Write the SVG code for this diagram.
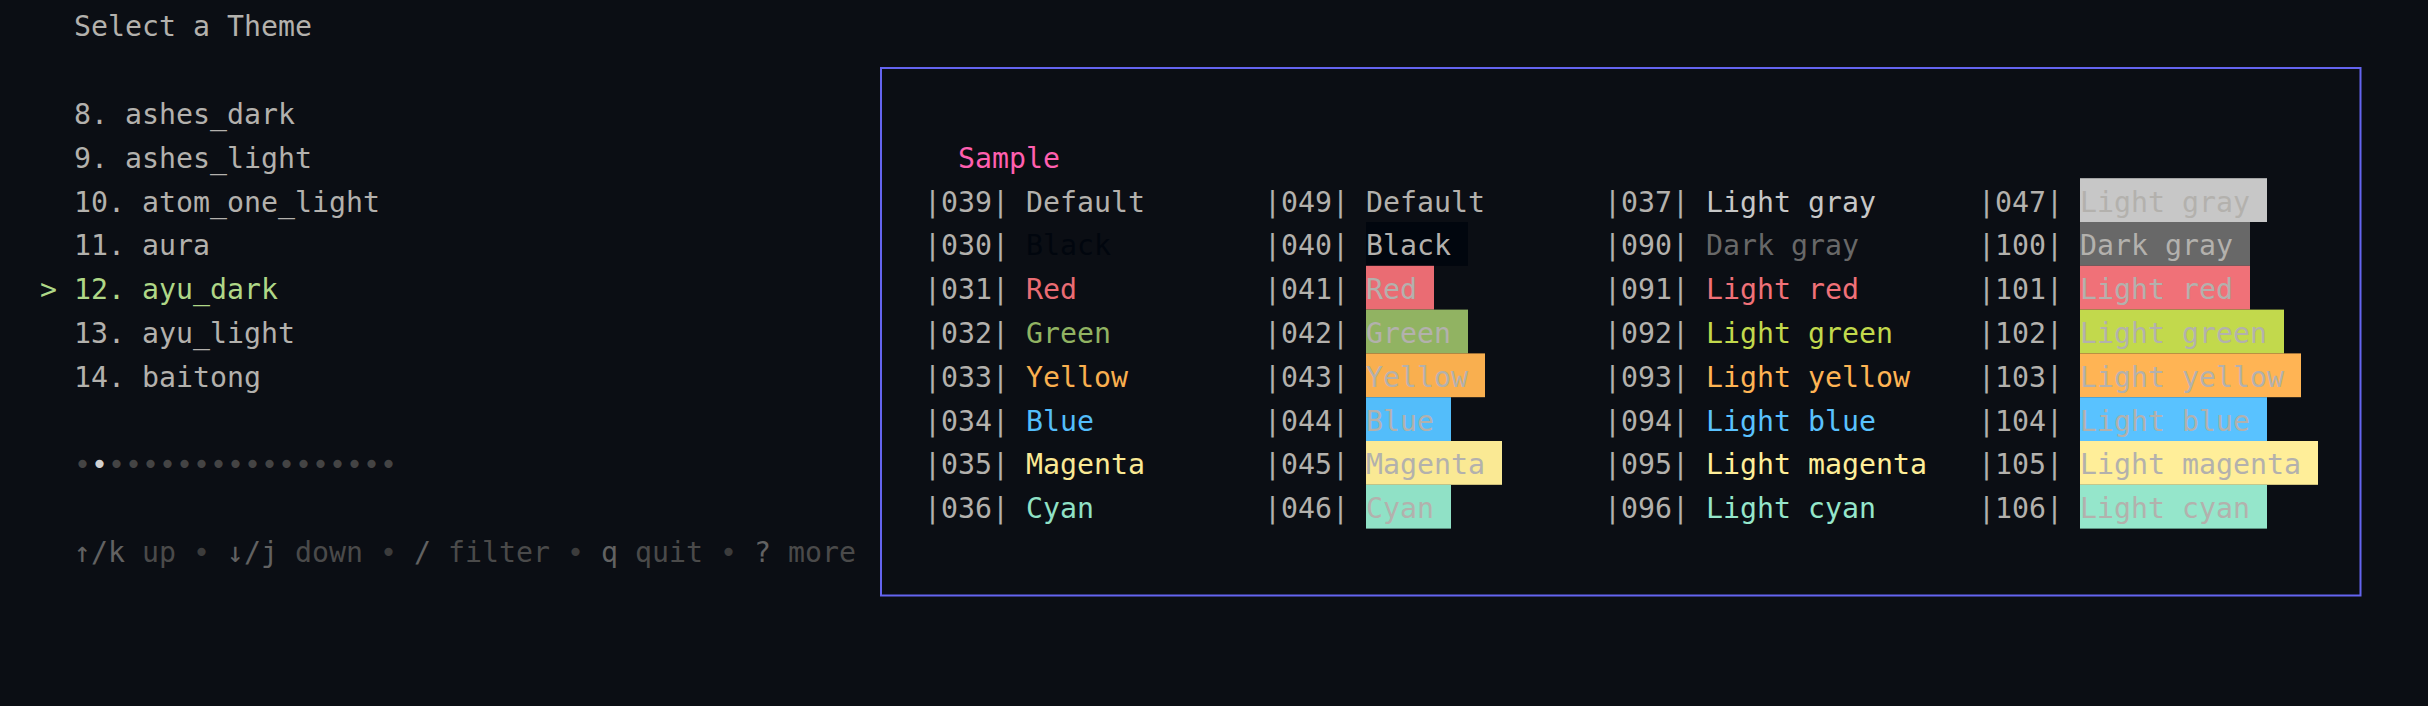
<svg xmlns="http://www.w3.org/2000/svg" width="2428" height="706" viewBox="0 0 2428 706">
<style>
text{font-family:"DejaVu Sans Mono","Liberation Mono",monospace;font-size:28.24px;white-space:pre}
.fg{fill:#b3b1ad}
.sel{fill:#afd787}
.key{fill:#626262}
.desc{fill:#4a4a4a}
.sep{fill:#3c3c3c}
.don{fill:#d0d0d0}
.doff{fill:#444444}
.pink{fill:#ff5faf}
</style>
<rect x="0" y="0" width="2428" height="706" fill="#0b0e14"/>
<g id="theme-list">
<text class="fg" x="74" y="36.4">Select a Theme</text>
<text class="fg" x="74" y="124">8. ashes_dark</text>
<text class="fg" x="74" y="167.8">9. ashes_light</text>
<text class="fg" x="74" y="211.6">10. atom_one_light</text>
<text class="fg" x="74" y="255.4">11. aura</text>
<text class="sel" x="40" y="299.2">&gt; 12. ayu_dark</text>
<text class="fg" x="74" y="343">13. ayu_light</text>
<text class="fg" x="74" y="386.8">14. baitong</text>
</g>
<g id="pagination">
<text x="74" y="474.4" xml:space="preserve"><tspan class="doff">•</tspan><tspan class="don">•</tspan><tspan class="doff">•••••••••••••••••</tspan></text>
</g>
<g id="help">
<text x="74" y="562" xml:space="preserve"><tspan class="key">↑/k</tspan><tspan class="desc"> up</tspan><tspan class="sep"> • </tspan><tspan class="key">↓/j</tspan><tspan class="desc"> down</tspan><tspan class="sep"> • </tspan><tspan class="key">/</tspan><tspan class="desc"> filter</tspan><tspan class="sep"> • </tspan><tspan class="key">q</tspan><tspan class="desc"> quit</tspan><tspan class="sep"> • </tspan><tspan class="key">?</tspan><tspan class="desc"> more</tspan></text>
</g>
<g id="sample-panel">
<rect x="881" y="68" width="1479.5" height="527.5" fill="none" stroke="#6464f0" stroke-width="2"/>
<text class="pink" x="958" y="167.8">Sample</text>
<g id="col-fg">
<text class="fg" x="924" y="211.6">|039|</text><text class="fg" x="1026" y="211.6">Default</text>
<text class="fg" x="924" y="255.4">|030|</text><text x="1026" y="255.4" fill="#01060e">Black</text>
<text class="fg" x="924" y="299.2">|031|</text><text x="1026" y="299.2" fill="#ea6c73">Red</text>
<text class="fg" x="924" y="343">|032|</text><text x="1026" y="343" fill="#91b362">Green</text>
<text class="fg" x="924" y="386.8">|033|</text><text x="1026" y="386.8" fill="#f9af4f">Yellow</text>
<text class="fg" x="924" y="430.6">|034|</text><text x="1026" y="430.6" fill="#53bdfa">Blue</text>
<text class="fg" x="924" y="474.4">|035|</text><text x="1026" y="474.4" fill="#fae994">Magenta</text>
<text class="fg" x="924" y="518.2">|036|</text><text x="1026" y="518.2" fill="#90e1c6">Cyan</text>
</g>
<g id="col-bg">
<rect x="1366" y="222" width="102" height="43.8" fill="#01060e"/>
<rect x="1366" y="265.8" width="68" height="43.8" fill="#ea6c73"/>
<rect x="1366" y="309.6" width="102" height="43.8" fill="#91b362"/>
<rect x="1366" y="353.4" width="119" height="43.8" fill="#f9af4f"/>
<rect x="1366" y="397.2" width="85" height="43.8" fill="#53bdfa"/>
<rect x="1366" y="441" width="136" height="43.8" fill="#fae994"/>
<rect x="1366" y="484.8" width="85" height="43.8" fill="#90e1c6"/>
<text class="fg" x="1264" y="211.6">|049|</text><text class="fg" x="1366" y="211.6">Default</text>
<text class="fg" x="1264" y="255.4">|040|</text><text class="fg" x="1366" y="255.4">Black</text>
<text class="fg" x="1264" y="299.2">|041|</text><text class="fg" x="1366" y="299.2">Red</text>
<text class="fg" x="1264" y="343">|042|</text><text class="fg" x="1366" y="343">Green</text>
<text class="fg" x="1264" y="386.8">|043|</text><text class="fg" x="1366" y="386.8">Yellow</text>
<text class="fg" x="1264" y="430.6">|044|</text><text class="fg" x="1366" y="430.6">Blue</text>
<text class="fg" x="1264" y="474.4">|045|</text><text class="fg" x="1366" y="474.4">Magenta</text>
<text class="fg" x="1264" y="518.2">|046|</text><text class="fg" x="1366" y="518.2">Cyan</text>
</g>
<g id="col-bright-fg">
<text class="fg" x="1604" y="211.6">|037|</text><text x="1706" y="211.6" fill="#c7c7c7">Light gray</text>
<text class="fg" x="1604" y="255.4">|090|</text><text x="1706" y="255.4" fill="#686868">Dark gray</text>
<text class="fg" x="1604" y="299.2">|091|</text><text x="1706" y="299.2" fill="#f07178">Light red</text>
<text class="fg" x="1604" y="343">|092|</text><text x="1706" y="343" fill="#c2d94c">Light green</text>
<text class="fg" x="1604" y="386.8">|093|</text><text x="1706" y="386.8" fill="#ffb454">Light yellow</text>
<text class="fg" x="1604" y="430.6">|094|</text><text x="1706" y="430.6" fill="#59c2ff">Light blue</text>
<text class="fg" x="1604" y="474.4">|095|</text><text x="1706" y="474.4" fill="#ffee99">Light magenta</text>
<text class="fg" x="1604" y="518.2">|096|</text><text x="1706" y="518.2" fill="#95e6cb">Light cyan</text>
</g>
<g id="col-bright-bg">
<rect x="2080" y="178.2" width="187" height="43.8" fill="#c7c7c7"/>
<rect x="2080" y="222" width="170" height="43.8" fill="#686868"/>
<rect x="2080" y="265.8" width="170" height="43.8" fill="#f07178"/>
<rect x="2080" y="309.6" width="204" height="43.8" fill="#c2d94c"/>
<rect x="2080" y="353.4" width="221" height="43.8" fill="#ffb454"/>
<rect x="2080" y="397.2" width="187" height="43.8" fill="#59c2ff"/>
<rect x="2080" y="441" width="238" height="43.8" fill="#ffee99"/>
<rect x="2080" y="484.8" width="187" height="43.8" fill="#95e6cb"/>
<text class="fg" x="1978" y="211.6">|047|</text><text class="fg" x="2080" y="211.6">Light gray</text>
<text class="fg" x="1978" y="255.4">|100|</text><text class="fg" x="2080" y="255.4">Dark gray</text>
<text class="fg" x="1978" y="299.2">|101|</text><text class="fg" x="2080" y="299.2">Light red</text>
<text class="fg" x="1978" y="343">|102|</text><text class="fg" x="2080" y="343">Light green</text>
<text class="fg" x="1978" y="386.8">|103|</text><text class="fg" x="2080" y="386.8">Light yellow</text>
<text class="fg" x="1978" y="430.6">|104|</text><text class="fg" x="2080" y="430.6">Light blue</text>
<text class="fg" x="1978" y="474.4">|105|</text><text class="fg" x="2080" y="474.4">Light magenta</text>
<text class="fg" x="1978" y="518.2">|106|</text><text class="fg" x="2080" y="518.2">Light cyan</text>
</g>
</g>
</svg>
